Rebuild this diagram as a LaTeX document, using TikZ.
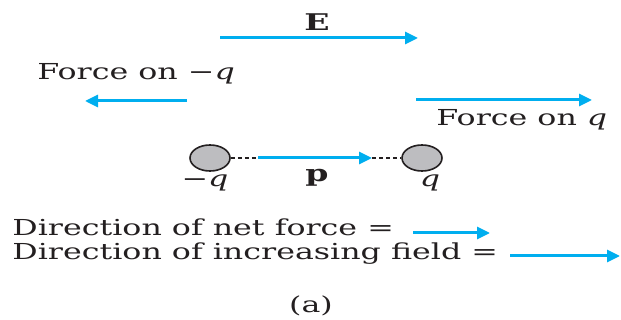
\documentclass[tikz,border=0pt]{standalone}
\usepackage{fontspec}
\setmainfont{DejaVu Serif}
\usetikzlibrary{arrows.meta,positioning,shapes.geometric}
\definecolor{ink}{HTML}{231F20}
\definecolor{field}{HTML}{00AEEF}
\definecolor{charge}{HTML}{BDBDC0}
% the artwork is drawn wide: stretch the lettering to match
\newcommand{\widetxt}[1]{\scalebox{1.44}[1]{#1}}

\begin{document}
\begin{tikzpicture}[x=0.5pt,y=-0.5pt,font=\fontsize{11}{13}\selectfont,text=ink,
  vec/.style={field,line width=1.5pt,-{Triangle[length=6.5pt,width=6pt]}},
  ball/.style={ellipse,draw=ink,line width=0.8pt,fill=charge,minimum width=20pt,minimum height=13pt,inner sep=0pt},
  link/.style={ink,line width=0.7pt,dash pattern=on 2pt off 1.5pt},
  lbl/.style={inner sep=0pt,anchor=base}]
  \path[use as bounding box] (0,0) rectangle (621,320);

  % uniform field E
  \coordinate (e0) at (220,38);
  \coordinate (e1) at (418,38);
  \draw[vec] (e0) -- (e1);
  \node[lbl,font=\fontsize{11.5}{13}\selectfont\bfseries] (elab) at (317,31) {\widetxt{E}};

  % forces on the two charges
  \node[lbl,anchor=base west] (fneg) at (37,80) {\widetxt{Force on −\textit{q}}};
  \coordinate (fn0) at (187,101);
  \coordinate (fn1) at (85,101);
  \draw[vec] (fn0) -- (fn1);
  \coordinate (fp0) at (416,100);
  \coordinate (fp1) at (592,100);
  \draw[vec] (fp0) -- (fp1);
  \node[lbl,anchor=base west] (fpos) at (436,126) {\widetxt{Force on \textit{q}}};

  % the dipole
  \node[ball] (qneg) at (210,158) {};
  \node[ball] (qpos) at (422,158) {};
  \coordinate (p0) at (258,158);
  \coordinate (p1) at (372,158);
  \draw[link] (qneg) -- (p0);
  \draw[link] (p1) -- (qpos);
  \draw[vec] (p0) -- (p1);
  \node[lbl] (qnlab) at (205,187) {\widetxt{−\textit{q}}};
  \node[lbl] (qplab) at (430,187) {\widetxt{\textit{q}}};
  \node[lbl,font=\fontsize{11.5}{13}\selectfont\bfseries] (plab) at (317,182) {\widetxt{p}};

  % net force and field gradient
  \node[lbl,anchor=base west] (dnet) at (12,236) {\widetxt{Direction of net force =}};
  \node[lbl,anchor=base west] (dgrad) at (12,260) {\widetxt{Direction of increasing field =}};
  \coordinate (dn0) at (413,233);
  \coordinate (dn1) at (490,233);
  \draw[vec] (dn0) -- (dn1);
  \coordinate (dg0) at (510,256);
  \coordinate (dg1) at (620,256);
  \draw[vec] (dg0) -- (dg1);

  \node[lbl] (cap) at (311,313) {\widetxt{(a)}};
\end{tikzpicture}
\end{document}
